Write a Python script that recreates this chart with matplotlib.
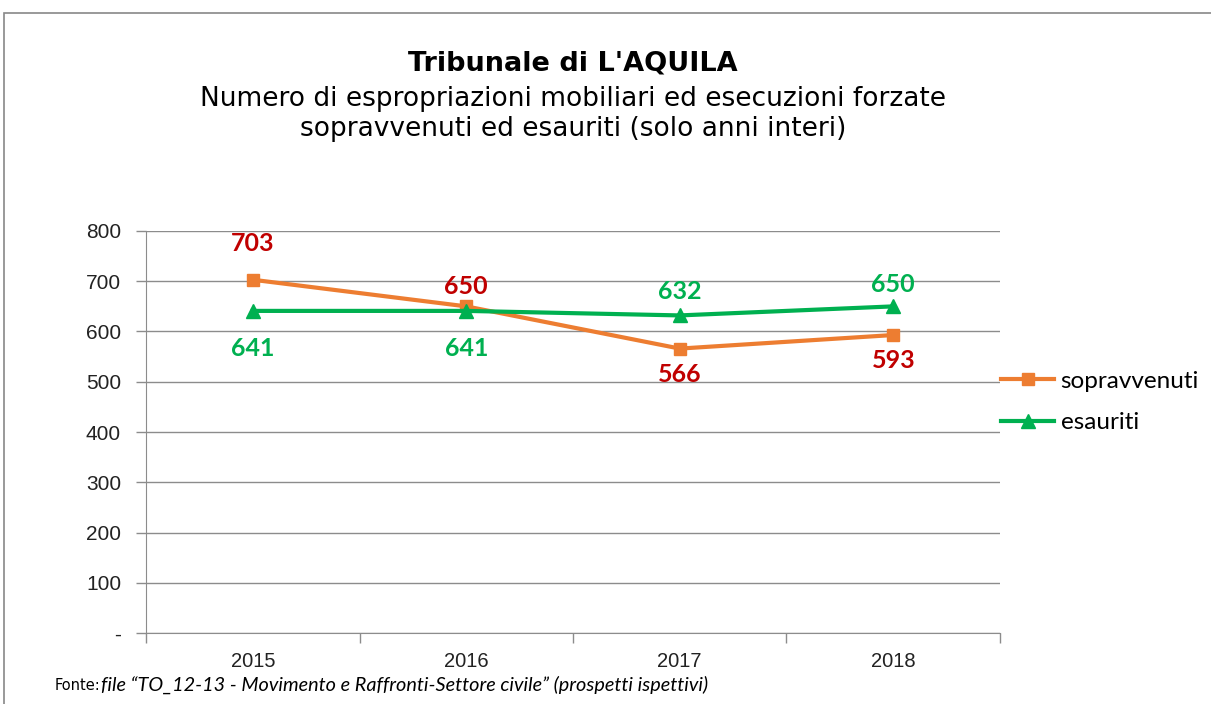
import matplotlib.pyplot as plt
from matplotlib.lines import Line2D
from matplotlib.patches import Rectangle

years = ["2015", "2016", "2017", "2018"]
sopravvenuti = [703, 650, 566, 593]
esauriti = [641, 641, 632, 650]
yticks = [0, 100, 200, 300, 400, 500, 600, 700, 800]
ytick_labels = ["-", "100", "200", "300", "400", "500", "600", "700", "800"]

# vertical offsets of the data labels (points, + = above the marker)
sopr_dy = [26, 14, -19, -18]
esau_dy = [-27, -27, 17, 16]

ORANGE = "#ED7D31"
GREEN = "#00B050"
RED = "#C00000"
GRID = "#8C8C8C"

fig = plt.figure(figsize=(12.11, 7.04), dpi=100)
ax = fig.add_axes([146 / 1211, 1 - 633 / 704, 854 / 1211, 402 / 704])

x = list(range(len(years)))
ax.plot(x, sopravvenuti, color=ORANGE, lw=3, marker="s", ms=9, label="sopravvenuti")
ax.plot(x, esauriti, color=GREEN, lw=3, marker="^", ms=10, label="esauriti")

for xi, v, dy in zip(x, sopravvenuti, sopr_dy):
    ax.annotate(str(v), (xi, v), xytext=(0, dy), textcoords="offset points",
                ha="center", va="center", color=RED,
                fontsize=18, fontweight="bold", family="Lato")
for xi, v, dy in zip(x, esauriti, esau_dy):
    ax.annotate(str(v), (xi, v), xytext=(0, dy), textcoords="offset points",
                ha="center", va="center", color=GREEN,
                fontsize=18, fontweight="bold", family="Lato")

ax.set_xlim(-0.5, len(years) - 0.5)
ax.set_ylim(0, 800)
ax.set_yticks(yticks)
ax.set_yticklabels(ytick_labels, family="Liberation Sans", fontsize=15, color="#222222")
ax.set_xticks(x)
ax.set_xticklabels(years, family="Liberation Sans", fontsize=14.5, color="#222222")
ax.tick_params(axis="x", length=0, pad=14)
ax.set_xticks([i - 0.5 for i in range(len(years) + 1)], minor=True)
ax.tick_params(axis="x", which="minor", length=7, color=GRID, width=1)
ax.tick_params(axis="y", length=7, color=GRID, width=1, pad=11)
ax.grid(axis="y", color=GRID, lw=1)
ax.set_axisbelow(True)
for s in ["top", "right"]:
    ax.spines[s].set_visible(False)
for s in ["left", "bottom"]:
    ax.spines[s].set_color(GRID)

handles = [Line2D([], [], color=ORANGE, lw=3, marker="s", ms=9),
           Line2D([], [], color=GREEN, lw=3, marker="^", ms=10)]
fig.legend(handles, ["sopravvenuti", "esauriti"], loc="center left",
           bbox_to_anchor=(1001 / 1211, 1 - 402 / 704), frameon=False,
           prop={"family": "Lato", "size": 17.5}, handlelength=2.2,
           handletextpad=0.25, labelspacing=0.85, borderpad=0, borderaxespad=0)

cx = 573 / 1211
fig.text(cx, 1 - 63 / 704, "Tribunale di L'AQUILA", ha="center", va="center",
         fontsize=19.5, fontweight="bold", family="DejaVu Sans")
fig.text(cx, 1 - 114 / 704,
         "Numero di espropriazioni mobiliari ed esecuzioni forzate\nsopravvenuti ed esauriti (solo anni interi)",
         ha="center", va="center", fontsize=19, family="DejaVu Sans", linespacing=1.25)

fig.text(55 / 1211, 1 - 685 / 704, "Fonte:", ha="left", va="center",
         fontsize=10.5, family="DejaVu Sans")
fig.text(101 / 1211, 1 - 685 / 704,
         "file \u201cTO_12-13 - Movimento e Raffronti-Settore civile\u201d (prospetti ispettivi)",
         ha="left", va="center", fontsize=14.3, family="Lato", style="italic")

fig.add_artist(Rectangle((4 / 1211, -0.01), 1.1, 1 - 13 / 704 + 0.01, transform=fig.transFigure,
                         fill=False, edgecolor="#888888", lw=1.2))

fig.savefig("out.png", dpi=100)
